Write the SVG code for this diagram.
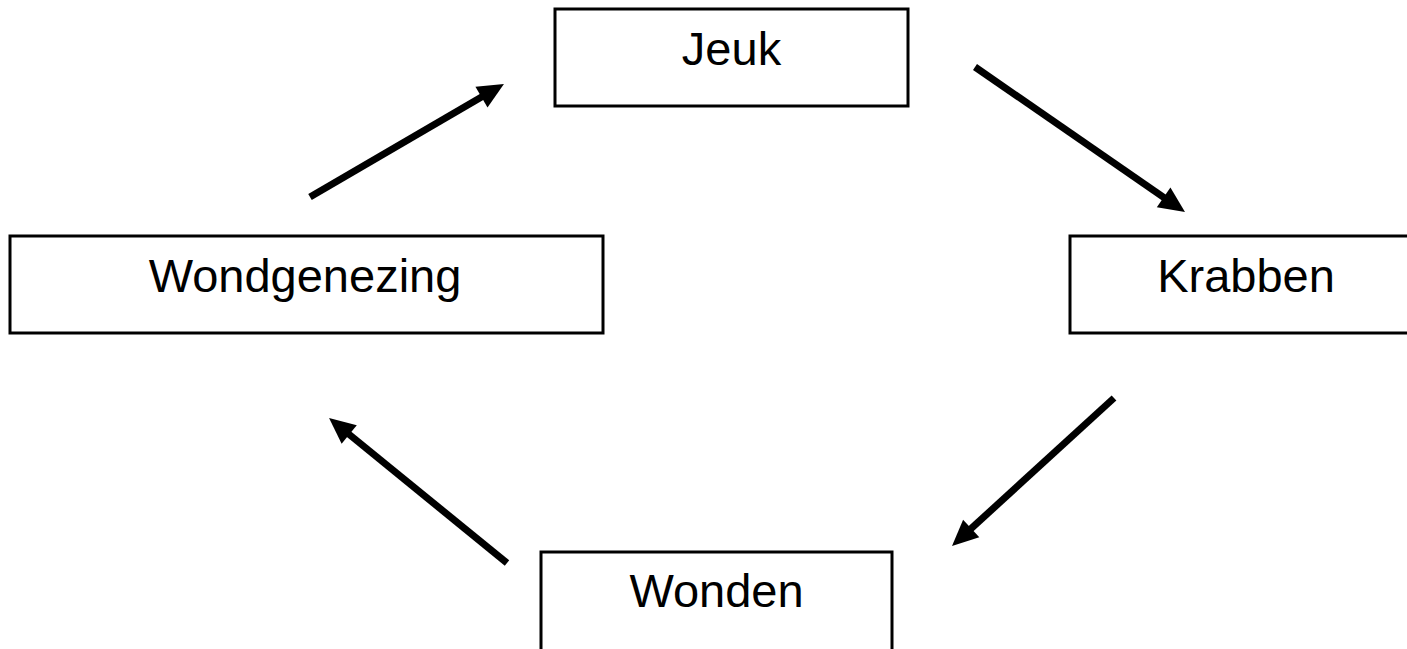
<svg xmlns="http://www.w3.org/2000/svg" width="1407" height="649" viewBox="0 0 1407 649">
  <style>
    .box { fill: #ffffff; stroke: #000000; stroke-width: 3; }
    .label { font-family: "Liberation Sans", Arial, sans-serif; font-size: 47px; fill: #000000; text-anchor: middle; }
    .arrow { fill: none; stroke: #000000; stroke-width: 7; marker-end: url(#head); }
  </style>
  <defs>
    <marker id="head" markerUnits="userSpaceOnUse" markerWidth="28" markerHeight="26" refX="8" refY="12" orient="auto" overflow="visible">
      <path d="M0,0 L26,12 L0,24 z" fill="#000000"/>
    </marker>
  </defs>
  <rect width="1407" height="649" fill="#ffffff"/>

  <g id="node-jeuk">
    <rect class="box" x="555" y="9" width="353" height="97"/>
    <text class="label" x="731.5" y="65">Jeuk</text>
  </g>
  <g id="node-krabben">
    <rect class="box" x="1070" y="236" width="345" height="97"/>
    <text class="label" x="1246" y="292">Krabben</text>
  </g>
  <g id="node-wonden">
    <rect class="box" x="541" y="552" width="351" height="120"/>
    <text class="label" x="716.5" y="607">Wonden</text>
  </g>
  <g id="node-wondgenezing">
    <rect class="box" x="10" y="236" width="593" height="97"/>
    <text class="label" x="305" y="292" font-size="48">Wondgenezing</text>
  </g>

  <g id="connectors">
    <path class="arrow" d="M310,197 L488.4,93.1"/>
    <path class="arrow" d="M975,67 L1170.2,201.8"/>
    <path class="arrow" d="M1114,398 L965.3,533.9"/>
    <path class="arrow" d="M507,563 L343,429.4"/>
  </g>
</svg>
